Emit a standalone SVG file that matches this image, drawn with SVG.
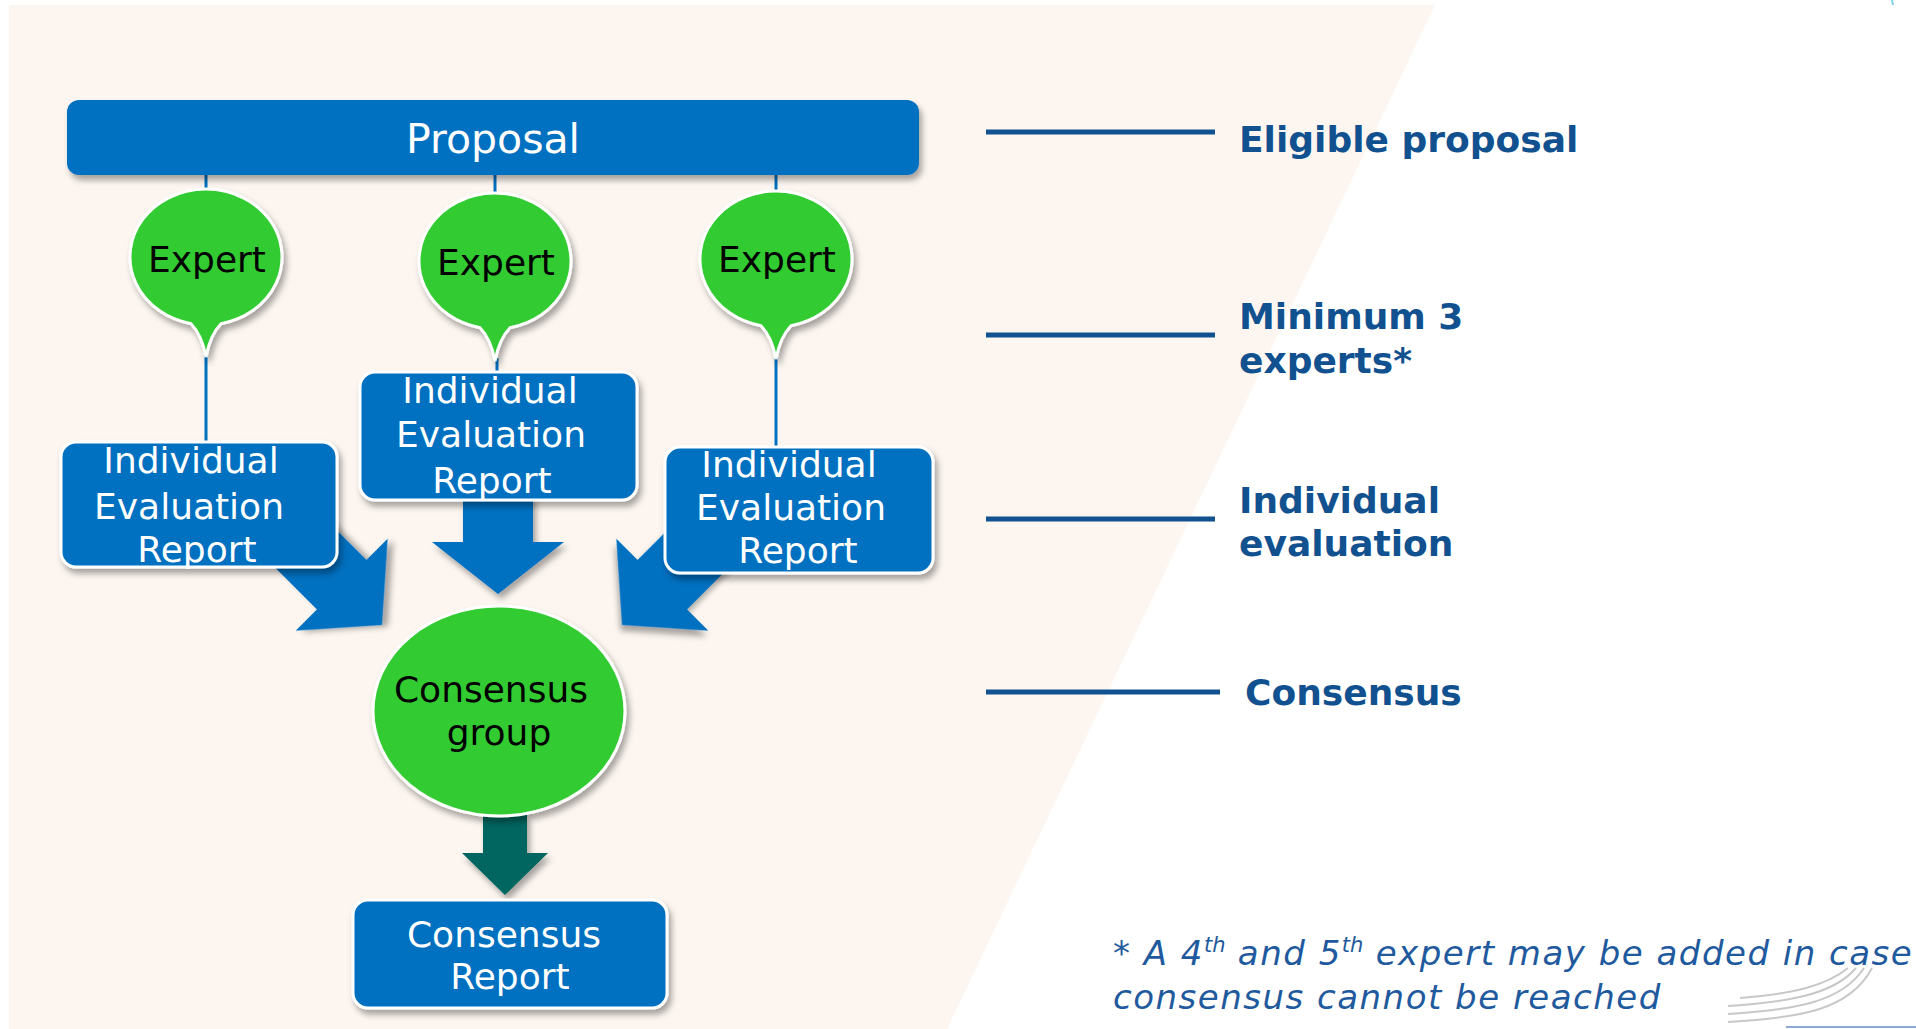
<svg xmlns="http://www.w3.org/2000/svg" width="1916" height="1029" viewBox="0 0 1916 1029">
<style>
  .box { fill: #0070C0; stroke: #FFFFFF; stroke-width: 3; filter: url(#shadow); }
  .bal { fill: #33CC33; stroke: #FFFFFF; stroke-width: 3; filter: url(#shadow); }
  .wt { font-family: "DejaVu Sans", Verdana, sans-serif; font-size: 36px; fill: #FFFFFF; text-anchor: middle; }
  .big { font-size: 41px; }
  .bt { font-family: "DejaVu Sans", Verdana, sans-serif; font-size: 36px; fill: #000000; text-anchor: middle; }
  .lbl { font-family: "DejaVu Sans", Verdana, sans-serif; font-size: 36px; font-weight: bold; fill: #11518F; }
  .note { font-family: "DejaVu Sans", Verdana, sans-serif; font-size: 34px; letter-spacing: 1.5px; font-style: italic; fill: #1F5A9E; }
  .sup { font-size: 21px; letter-spacing: 0; }
  .thin { stroke: #0070C0; stroke-width: 3; fill: none; }
  .rule { stroke: #11518F; stroke-width: 5; }
  .arr { fill: #0070C0; filter: url(#shadow); }
  .arr2 { fill: #00665E; filter: url(#shadow); }
  .deco { fill: none; stroke: #C8C8C8; stroke-width: 2; }
</style>
<defs>
  <filter id="shadow" x="-20%" y="-20%" width="140%" height="150%">
    <feDropShadow dx="3" dy="5" stdDeviation="3" flood-color="#000000" flood-opacity="0.35"/>
  </filter>
  <path id="balloon" d="M -15,66.7 A 76 68 0 1 1 15,66.7 Q 4,78 0,100 Q -4,78 -15,66.7 Z"/>
</defs>

<rect x="0" y="0" width="1916" height="1029" fill="#FFFFFF"/>
<polygon points="9,5 1435,5 947,1029 9,1029" fill="#FDF6F0"/>

<g id="connectors">
  <line class="thin" x1="206" y1="175" x2="206" y2="194"/>
  <line class="thin" x1="495" y1="175" x2="495" y2="195"/>
  <line class="thin" x1="776" y1="175" x2="776" y2="193"/>
  <line class="thin" x1="206" y1="355" x2="206" y2="443"/>
  <line class="thin" x1="497" y1="358" x2="497" y2="373"/>
  <line class="thin" x1="776" y1="355" x2="776" y2="448"/>
  <path class="arr" transform="translate(498,594)" d="M -35,-99 L 35,-99 L 35,-52 L 66,-52 L 0,0 L -66,-52 L -35,-52 Z"/>
  <path class="arr" transform="translate(382,625) rotate(-45)" d="M -35,-175 L 35,-175 L 35,-57 L 65,-57 L 0,0 L -65,-57 L -35,-57 Z"/>
  <path class="arr" transform="translate(622,625) rotate(45)" d="M -35,-175 L 35,-175 L 35,-57 L 65,-57 L 0,0 L -65,-57 L -35,-57 Z"/>
  <path class="arr2" transform="translate(505,895)" d="M -22,-80 L 22,-80 L 22,-42 L 43,-42 L 0,0 L -43,-42 L -22,-42 Z"/>
</g>

<g id="proposal">
  <rect class="box" x="67" y="100" width="852" height="75" rx="12" style="stroke:none"/>
  <text class="wt big" x="493" y="153">Proposal</text>
</g>

<g id="expert-1">
  <use href="#balloon" class="bal" transform="translate(206,257)"/>
  <text class="bt" x="207" y="272">Expert</text>
</g>
<g id="expert-2">
  <use href="#balloon" class="bal" transform="translate(495,261)"/>
  <text class="bt" x="496" y="275">Expert</text>
</g>
<g id="expert-3">
  <use href="#balloon" class="bal" transform="translate(776,259)"/>
  <text class="bt" x="777" y="272">Expert</text>
</g>

<g id="ier-1">
  <rect class="box" x="61" y="442" width="276" height="125" rx="15"/>
  <text class="wt" x="191" y="473">Individual</text>
  <text class="wt" x="189" y="519">Evaluation</text>
  <text class="wt" x="197" y="562">Report</text>
</g>
<g id="ier-2">
  <rect class="box" x="360" y="372" width="277" height="128" rx="15"/>
  <text class="wt" x="490" y="403">Individual</text>
  <text class="wt" x="491" y="447">Evaluation</text>
  <text class="wt" x="492" y="493">Report</text>
</g>
<g id="ier-3">
  <rect class="box" x="665" y="447" width="268" height="126" rx="15"/>
  <text class="wt" x="789" y="477">Individual</text>
  <text class="wt" x="791" y="520">Evaluation</text>
  <text class="wt" x="798" y="563">Report</text>
</g>

<g id="consensus-group">
  <ellipse class="bal" cx="499" cy="711" rx="126" ry="105"/>
  <text class="bt" x="491" y="702">Consensus</text>
  <text class="bt" x="499" y="745">group</text>
</g>

<g id="consensus-report">
  <rect class="box" x="353" y="900" width="314" height="108" rx="15"/>
  <text class="wt" x="504" y="947">Consensus</text>
  <text class="wt" x="510" y="989">Report</text>
</g>

<g id="legend">
  <line class="rule" x1="986" y1="132" x2="1215" y2="132"/>
  <line class="rule" x1="986" y1="335" x2="1215" y2="335"/>
  <line class="rule" x1="986" y1="519" x2="1215" y2="519"/>
  <line class="rule" x1="986" y1="692" x2="1220" y2="692"/>
  <text class="lbl" x="1239" y="152">Eligible proposal</text>
  <text class="lbl" x="1239" y="329">Minimum 3</text>
  <text class="lbl" x="1239" y="373">experts*</text>
  <text class="lbl" x="1239" y="513">Individual</text>
  <text class="lbl" x="1239" y="556">evaluation</text>
  <text class="lbl" x="1245" y="705">Consensus</text>
</g>

<g id="footnote">
  <text class="note" x="1113" y="965">* A 4<tspan class="sup" dy="-13">th</tspan><tspan dy="13"> and 5</tspan><tspan class="sup" dy="-13">th</tspan><tspan dy="13"> expert may be added in case</tspan></text>
  <text class="note" x="1113" y="1009">consensus cannot be reached</text>
</g>

<g id="decoration">
  <path class="deco" d="M 1728,1022 C 1800,1018 1850,1010 1872,968"/>
  <path class="deco" d="M 1728,1014 C 1795,1010 1842,1002 1864,968"/>
  <path class="deco" d="M 1728,1006 C 1790,1002 1834,994 1856,968"/>
  <path class="deco" d="M 1740,998 C 1792,994 1826,986 1848,968"/>
  <line x1="1786" y1="1027" x2="1916" y2="1027" stroke="#8FA8D0" stroke-width="2"/>
  <line x1="1892" y1="0" x2="1893" y2="5" stroke="#7FD3F0" stroke-width="2"/>
</g>
</svg>
